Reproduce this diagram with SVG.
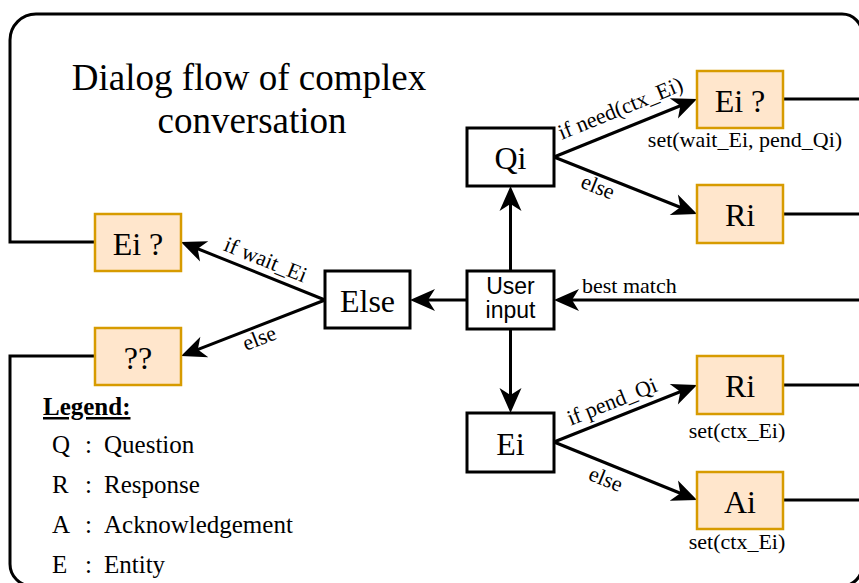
<svg xmlns="http://www.w3.org/2000/svg" width="859" height="583" viewBox="0 0 859 583">
  <style>
    .serif { font-family: 'Liberation Serif', 'Times New Roman', serif; fill: #000; }
    .sans { font-family: 'Liberation Sans', Arial, sans-serif; fill: #000; }
    .plain { fill: #fff; stroke: #000; stroke-width: 3; }
    .state { fill: #ffe6cc; stroke: #d79b00; stroke-width: 2.5; }
    .node-label { font-size: 32px; text-anchor: middle; }
    .edge-label { font-size: 22px; text-anchor: middle; }
    .wire { fill: none; stroke: #000; stroke-width: 3; }
    .arrow { fill: none; stroke: #000; stroke-width: 3; marker-end: url(#head); }
    .legend { font-size: 25px; }
  </style>
  <defs>
    <!-- filled classic arrowhead; its tip sits 8px past the end of the line -->
    <marker id="head" markerUnits="userSpaceOnUse" markerWidth="40" markerHeight="30" viewBox="-20 -15 40 30" refX="0" refY="0" orient="auto" overflow="visible">
      <path d="M8,0 L-17,-11 L-10,0 L-17,11 Z" fill="#000"/>
    </marker>
  </defs>

  <rect width="859" height="583" fill="#fff"/>

  <!-- title -->
  <text class="serif" font-size="37" text-anchor="middle" x="249" y="90">Dialog flow of complex</text>
  <text class="serif" font-size="37" text-anchor="middle" x="252" y="133">conversation</text>

  <!-- connectors -->
  <g id="connectors">
    <!-- outer loop returning every leaf back to the input -->
    <path class="wire" d="M95,242 H10 V40 A26,26 0 0 1 36,14 H842 A20,20 0 0 1 862,34 V566 A20,20 0 0 1 842,586 H32 A22,22 0 0 1 10,564 V356 H95"/>
    <line class="wire" x1="783" y1="99" x2="862" y2="99"/>
    <line class="wire" x1="783" y1="214" x2="862" y2="214"/>
    <line class="wire" x1="783" y1="385" x2="862" y2="385"/>
    <line class="wire" x1="783" y1="500" x2="862" y2="500"/>

    <line class="arrow" x1="862" y1="300" x2="562" y2="300"/>
    <line class="arrow" x1="510.5" y1="271" x2="510.5" y2="194"/>
    <line class="arrow" x1="510.5" y1="329" x2="510.5" y2="405"/>
    <line class="arrow" x1="467" y1="300" x2="418" y2="300"/>

    <line class="arrow" x1="554" y1="157" x2="689.6" y2="102"/>
    <line class="arrow" x1="554" y1="157" x2="689.6" y2="211"/>
    <line class="arrow" x1="325" y1="300" x2="188.4" y2="245"/>
    <line class="arrow" x1="325" y1="300" x2="188.5" y2="353.1"/>
    <line class="arrow" x1="554" y1="442" x2="689.6" y2="388"/>
    <line class="arrow" x1="554" y1="442" x2="689.6" y2="497"/>

    <text class="serif edge-label" transform="translate(628,127) rotate(-22.1)" y="-13">if need(ctx_Ei)</text>
    <text class="serif edge-label" transform="translate(602.1,176.2) rotate(21.7)" y="18.5">else</text>
    <text class="serif edge-label" transform="translate(260,273.8) rotate(21.9)" y="-8">if wait_Ei</text>
    <text class="serif edge-label" transform="translate(255,327.2) rotate(-21.25)" y="19">else</text>
    <text class="serif edge-label" transform="translate(618,416.5) rotate(-21.7)" y="-9">if pend_Qi</text>
    <text class="serif edge-label" transform="translate(611.4,465.3) rotate(22.1)" y="22">else</text>
    <text class="serif" font-size="22" x="582" y="293">best match</text>
  </g>

  <!-- nodes -->
  <g id="user-input">
    <rect class="plain" x="467" y="271" width="87" height="58"/>
    <text class="sans" font-size="23" text-anchor="middle" x="510.5" y="294">User</text>
    <text class="sans" font-size="23" text-anchor="middle" x="510.5" y="318">input</text>
  </g>
  <g id="qi">
    <rect class="plain" x="467" y="128" width="87" height="58"/>
    <text class="serif node-label" x="510.5" y="168.5">Qi</text>
  </g>
  <g id="ei">
    <rect class="plain" x="467" y="413" width="87" height="59"/>
    <text class="serif node-label" x="510.5" y="455">Ei</text>
  </g>
  <g id="else">
    <rect class="plain" x="325" y="271" width="85" height="57"/>
    <text class="serif node-label" x="367.5" y="312">Else</text>
  </g>
  <g id="ask-entity-right">
    <rect class="state" x="697" y="71" width="86" height="57"/>
    <text class="serif node-label" x="740" y="112">Ei ?</text>
    <text class="serif edge-label" x="745" y="147">set(wait_Ei, pend_Qi)</text>
  </g>
  <g id="response-top">
    <rect class="state" x="697" y="185" width="86" height="58"/>
    <text class="serif node-label" x="740" y="226">Ri</text>
  </g>
  <g id="response-bottom">
    <rect class="state" x="697" y="356" width="86" height="58"/>
    <text class="serif node-label" x="740" y="397">Ri</text>
    <text class="serif edge-label" x="737" y="438">set(ctx_Ei)</text>
  </g>
  <g id="acknowledge">
    <rect class="state" x="697" y="472" width="86" height="57"/>
    <text class="serif node-label" x="740" y="513">Ai</text>
    <text class="serif edge-label" x="737" y="549">set(ctx_Ei)</text>
  </g>
  <g id="ask-entity-left">
    <rect class="state" x="95" y="214" width="86" height="57"/>
    <text class="serif node-label" x="138" y="255">Ei ?</text>
  </g>
  <g id="unknown">
    <rect class="state" x="95" y="328" width="86" height="57"/>
    <text class="serif node-label" x="138" y="369">??</text>
  </g>

  <!-- legend -->
  <g id="legend" class="serif legend">
    <text x="43" y="415" font-weight="bold" text-decoration="underline">Legend:</text>
    <text x="52" y="453">Q</text><text x="85" y="453">:</text><text x="104" y="453">Question</text>
    <text x="52" y="493">R</text><text x="85" y="493">:</text><text x="104" y="493">Response</text>
    <text x="52" y="533">A</text><text x="85" y="533">:</text><text x="104" y="533">Acknowledgement</text>
    <text x="52" y="573">E</text><text x="85" y="573">:</text><text x="104" y="573">Entity</text>
  </g>
</svg>
